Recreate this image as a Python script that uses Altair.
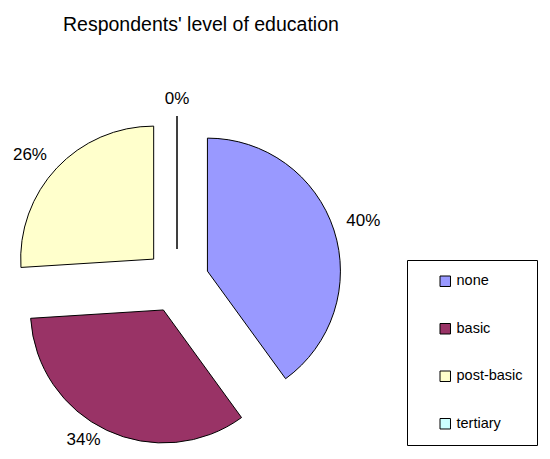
import altair as alt
import pandas as pd

# ---- data ----
categories = ["none", "basic", "post-basic", "tertiary"]
shares = [40, 34, 26, 0]
colors = ["#9999FF", "#993366", "#FFFFCC", "#CCFFFF"]
title_text = "Respondents' level of education"

df = pd.DataFrame({"idx": list(range(len(categories))), "cat": categories, "share": shares})

# ---- layout / style ----
FONT = "Liberation Sans"
W, H = 534, 393
PAD_TOP = 50
CX, CY = 169, 223          # pie centre inside the view
EXPLODE = 32               # explosion distance
R = 133                    # pie radius
GAP = 12                   # label gap outside the arc
HW, HH = 18, 5             # half label box
LABEL_YMAX = H - 11 - CY   # keep labels inside the view

xs = alt.Scale(domain=[-200, 200], range=[CX - 200, CX + 200], nice=False, zero=False)
ys = alt.Scale(domain=[-200, 200], range=[CY - 200, CY + 200], nice=False, zero=False)

base = (
    alt.Chart(df)
    .transform_window(cum="sum(share)", sort=[alt.SortField("idx")], frame=[None, 0])
    .transform_joinaggregate(total="sum(share)")
    .transform_calculate(t0="2*PI*(datum.cum - datum.share)/datum.total")
    .transform_calculate(t1="2*PI*datum.cum/datum.total")
    .transform_calculate(m="(datum.t0 + datum.t1)/2")
    .transform_calculate(ex=f"sin(datum.m)*{EXPLODE}")
    .transform_calculate(ey=f"-cos(datum.m)*{EXPLODE}")
    .transform_calculate(
        lx=f"sin(datum.m)*({EXPLODE}+{R}+{GAP}) + clamp(sin(datum.m)*5,-1,1)*{HW}"
    )
    .transform_calculate(
        ly=f"min({LABEL_YMAX}, -cos(datum.m)*({EXPLODE}+{R}+{GAP}) - clamp(cos(datum.m)*5,-1,1)*{HH})"
    )
    .transform_calculate(label="format(datum.share/datum.total, '.0%')")
)

legend = alt.Legend(
    title=None,
    orient="none",
    legendX=399,
    legendY=202,
    direction="vertical",
    symbolType="square",
    symbolSize=110,
    symbolStrokeColor="black",
    symbolStrokeWidth=1,
    symbolOpacity=1,
    symbolOffset=17,
    labelOffset=4,
    labelFontSize=14.5,
    labelFont=FONT,
    labelColor="black",
    rowPadding=31.5,
    padding=14,
    strokeColor="black",
    fillColor="white",
)

arcs = base.mark_arc(outerRadius=R, stroke="black", strokeWidth=1).encode(
    x=alt.X("ex:Q", scale=xs, axis=None),
    y=alt.Y("ey:Q", scale=ys, axis=None),
    theta=alt.Theta("t0:Q", scale=None),
    theta2=alt.Theta2("t1"),
    color=alt.Color("cat:N", scale=alt.Scale(domain=categories, range=colors), legend=legend),
)

labels = base.mark_text(
    font=FONT, fontSize=17, color="black", align="center", baseline="middle"
).encode(
    x=alt.X("lx:Q", scale=xs, axis=None),
    y=alt.Y("ly:Q", scale=ys, axis=None),
    text="label:N",
)

chart = (
    alt.layer(arcs, labels)
    .properties(
        width=W,
        height=H,
        title=alt.TitleParams(
            title_text,
            anchor="start",
            frame="group",
            dx=55,
            offset=8,
            baseline="alphabetic",
            font=FONT,
            fontSize=19.5,
            fontWeight="normal",
            color="black",
        ),
        autosize=alt.AutoSizeParams(type="none"),
        padding={"left": 0, "top": PAD_TOP, "right": 0, "bottom": 0},
    )
    .configure_view(strokeWidth=0)
)

chart.save("out.html", embed_options={"renderer": "svg", "actions": False})
